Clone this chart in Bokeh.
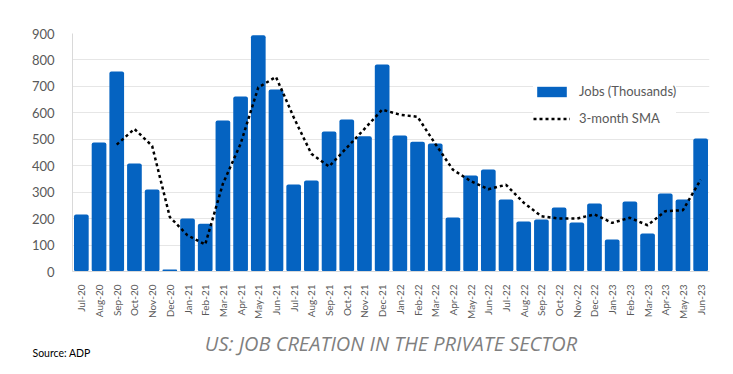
from bokeh.plotting import figure
from bokeh.models import Range1d, FactorRange, Title, Legend, LegendItem
from bokeh.embed import file_html
from bokeh.resources import INLINE
from math import pi

months = ["Jul-20", "Aug-20", "Sep-20", "Oct-20", "Nov-20", "Dec-20",
          "Jan-21", "Feb-21", "Mar-21", "Apr-21", "May-21", "Jun-21",
          "Jul-21", "Aug-21", "Sep-21", "Oct-21", "Nov-21", "Dec-21",
          "Jan-22", "Feb-22", "Mar-22", "Apr-22", "May-22", "Jun-22",
          "Jul-22", "Aug-22", "Sep-22", "Oct-22", "Nov-22", "Dec-22",
          "Jan-23", "Feb-23", "Mar-23", "Apr-23", "May-23", "Jun-23"]

jobs = [216, 488, 756, 408, 310, 8,
        200, 181, 571, 662, 893, 688,
        329, 344, 529, 575, 511, 783,
        514, 491, 484, 204, 363, 386,
        272, 189, 197, 242, 185, 257,
        121, 265, 144, 295, 272, 503]

sma_months = months[2:]
sma = [480, 539, 475, 206,
       137, 102, 332, 483, 696, 736,
       583, 445, 397, 468, 539, 612,
       593, 585, 483, 385, 342, 311,
       328, 260, 209, 200, 200, 216,
       184, 203, 175, 228, 232, 347]

y_ticks = [0, 100, 200, 300, 400, 500, 600, 700, 800, 900]

FONT = "Lato"
GRAY = "#595959"

p = figure(frame_width=637, frame_height=238,
           x_range=FactorRange(*months, range_padding=0),
           y_range=Range1d(0, 900), output_backend="svg", toolbar_location=None,
           min_border_left=72, min_border_right=8, min_border_top=33,
           min_border_bottom=100)
p.outline_line_color = None
p.background_fill_color = "white"
p.border_fill_color = "white"

bars = p.vbar(x=months, top=jobs, width=0.83, fill_color="#0563C1",
              line_color=None, border_radius=2)
line = p.line(x=sma_months, y=sma, line_color="black", line_width=2.5,
              line_dash="3 3")

p.xgrid.grid_line_color = None
p.ygrid.grid_line_color = "#E6E6E6"
p.ygrid.grid_line_width = 1

p.yaxis.ticker = y_ticks
p.yaxis.axis_line_color = "#D9D9D9"
p.yaxis.major_tick_line_color = None
p.yaxis.minor_tick_line_color = None
p.yaxis.major_label_standoff = 12
p.yaxis.major_label_text_font = FONT
p.yaxis.major_label_text_font_size = "13px"
p.yaxis.major_label_text_color = GRAY

p.xaxis.axis_line_color = "#D9D9D9"
p.xaxis.major_tick_line_color = None
p.xaxis.minor_tick_line_color = None
p.xaxis.major_label_orientation = pi / 2
p.xaxis.major_label_standoff = 7
p.xaxis.major_label_text_font = FONT
p.xaxis.major_label_text_font_size = "10px"
p.xaxis.major_label_text_color = GRAY
p.xaxis.axis_label = "US: JOB CREATION IN THE PRIVATE SECTOR"
p.xaxis.axis_label_standoff = 8
p.xaxis.axis_label_text_font = "Open Sans"
p.xaxis.axis_label_text_font_style = "italic"
p.xaxis.axis_label_text_font_size = "20px"
p.xaxis.axis_label_text_color = "#7F7F7F"

legend = Legend(items=[LegendItem(label="Jobs (Thousands)", renderers=[bars]),
                       LegendItem(label="3-month SMA", renderers=[line])],
                location=(461, 143))
legend.glyph_width = 37
legend.glyph_height = 13
legend.label_height = 20
legend.spacing = 7
legend.padding = 10
legend.margin = 0
legend.label_standoff = 9
legend.label_text_font = FONT
legend.label_text_font_size = "13px"
legend.label_text_color = GRAY
legend.border_line_color = None
legend.background_fill_color = "white"
legend.background_fill_alpha = 1
p.add_layout(legend)

p.add_layout(Title(text="Source: ADP", align="left", offset=-40, standoff=-26,
                   vertical_align="top",
                   text_font=FONT, text_font_size="10.5px",
                   text_font_style="normal", text_color="black"), "below")

open("out.html", "w").write(file_html(p, INLINE))
